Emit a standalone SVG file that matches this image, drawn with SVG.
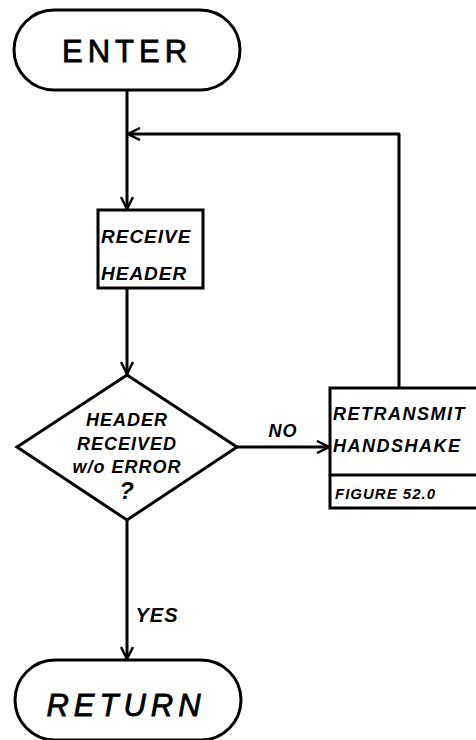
<svg xmlns="http://www.w3.org/2000/svg" width="476" height="740" viewBox="0 0 476 740">
<defs>
<style>
.s{fill:none;stroke:#000;stroke-width:3;stroke-linejoin:round;stroke-linecap:round}
.w{fill:#fff;stroke:#000;stroke-width:3}
.t{font-family:"Liberation Sans",Arial,sans-serif;fill:#000;text-anchor:middle}
.big{font-size:31px;letter-spacing:5px;stroke:#000;stroke-width:0.8}
.lab{font-size:18px;font-weight:bold;font-style:italic;letter-spacing:1px}
.st{text-anchor:start}
</style>
<marker id="a" viewBox="0 0 14 14" refX="13" refY="7" markerWidth="14" markerHeight="14" markerUnits="userSpaceOnUse" orient="auto">
<path d="M1,1 L13,7 L1,13" fill="none" stroke="#000" stroke-width="2.5"/>
</marker>
</defs>
<rect width="476" height="740" fill="#fff"/>
<g id="connectors">
<line class="s" x1="127" y1="90" x2="127" y2="209" marker-end="url(#a)"/>
<polyline class="s" points="399,387 399,134 128,134" marker-end="url(#a)"/>
<line class="s" x1="127" y1="289" x2="127" y2="374" marker-end="url(#a)"/>
<line class="s" x1="237" y1="447" x2="329" y2="447" marker-end="url(#a)"/>
<line class="s" x1="127" y1="520" x2="127" y2="659" marker-end="url(#a)"/>
<text class="t lab" x="283" y="437">NO</text>
<text class="t lab" x="157" y="622" style="font-size:20px">YES</text>
</g>
<g id="enter">
<rect class="w" x="14" y="10" width="226" height="80" rx="40"/>
<text class="t big" x="127" y="62">ENTER</text>
</g>
<g id="receive">
<rect class="w" x="98" y="210" width="105" height="78"/>
<text class="t lab st" x="101" y="243" style="font-size:19px">RECEIVE</text>
<text class="t lab st" x="101" y="280" style="font-size:19px">HEADER</text>
</g>
<g id="decision">
<polygon class="w" points="127,375 237,447 127,520 17,447"/>
<text class="t lab" x="127" y="426">HEADER</text>
<text class="t lab" x="127" y="450">RECEIVED</text>
<text class="t lab" x="127" y="473">w/o ERROR</text>
<text class="t lab" x="127" y="499" style="font-size:24px">?</text>
</g>
<g id="retransmit">
<rect class="w" x="330" y="388" width="150" height="120"/>
<line class="s" x1="330" y1="475" x2="478" y2="475"/>
<text class="t lab st" x="333" y="420" style="letter-spacing:1.5px">RETRANSMIT</text>
<text class="t lab st" x="333" y="452" style="letter-spacing:1.5px">HANDSHAKE</text>
<text class="t lab st" x="335" y="499" style="font-size:15px">FIGURE 52.0</text>
</g>
<g id="return">
<rect class="w" x="15" y="660" width="226" height="80" rx="40"/>
<text class="t big" x="126" y="716" style="font-style:italic">RETURN</text>
</g>
</svg>
